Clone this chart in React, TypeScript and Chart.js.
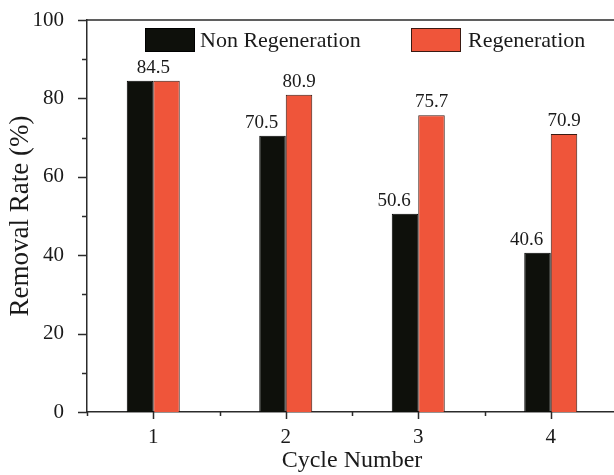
import React, { useEffect, useRef } from "react";
import { Chart, registerables } from "chart.js";

Chart.register(...registerables);

const cycles = ["1", "2", "3", "4"];
const nonRegeneration = [84.5, 70.5, 50.6, 40.6];
const regeneration = [84.5, 80.9, 75.7, 70.9];
const seriesNames = ["Non Regeneration", "Regeneration"];
const yMin = 0;
const yMax = 100;
const yMajorStep = 20;
const yMinorStep = 10;

const FONT = "'Liberation Serif', 'Times New Roman', serif";
const AXIS = "#2b2b2b";
const TEXT = "#1a1a1a";
const BLACK = "#0e100b";
const RED = "#ef553a";

const framePlugin = {
  id: "frame",
  afterDraw(chart: any) {
    const ctx = chart.ctx;
    const { left, right, top, bottom } = chart.chartArea;
    const xs = chart.scales.x;
    const ys = chart.scales.y;
    ctx.save();
    ctx.strokeStyle = AXIS;
    ctx.lineWidth = 1.5;
    ctx.beginPath();
    ctx.moveTo(left, top);
    ctx.lineTo(right, top);
    ctx.lineTo(right, bottom);
    for (let v = yMin; v <= yMax; v += yMinorStep) {
      const y = Math.round(ys.getPixelForValue(v)) + 0.5;
      const len = v % yMajorStep === 0 ? 9 : 5;
      ctx.moveTo(left - len, y);
      ctx.lineTo(left, y);
    }
    const n = chart.data.labels.length;
    for (let i = 0; i < n; i++) {
      const x = Math.round(xs.getPixelForValue(i)) + 0.5;
      ctx.moveTo(x, bottom);
      ctx.lineTo(x, bottom + 7);
    }
    for (let i = 0; i <= n; i++) {
      const x = Math.round(xs.getPixelForValue(i - 0.5)) + 0.5;
      ctx.moveTo(x, bottom);
      ctx.lineTo(x, bottom + 4);
    }
    ctx.stroke();

    const items = chart.data.datasets.map((d: any) => ({
      label: d.label,
      fill: d.backgroundColor,
      stroke: d.borderColor,
    }));
    const legendPos = [
      { box: left + 58, text: left + 113 },
      { box: left + 324, text: left + 381 },
    ];
    const boxTop = top + 8;
    ctx.font = `22px ${FONT}`;
    ctx.textBaseline = "middle";
    ctx.textAlign = "left";
    items.forEach((it: any, i: number) => {
      const p = legendPos[i];
      ctx.fillStyle = it.fill;
      ctx.fillRect(p.box, boxTop, 50, 24);
      ctx.strokeStyle = it.stroke;
      ctx.lineWidth = 1;
      ctx.strokeRect(p.box + 0.5, boxTop + 0.5, 49, 23);
      ctx.fillStyle = TEXT;
      ctx.fillText(it.label, p.text, boxTop + 13);
    });
    ctx.restore();
  },
};

const labelPlugin = {
  id: "barLabels",
  afterDatasetsDraw(chart: any) {
    const ctx = chart.ctx;
    const m0 = chart.getDatasetMeta(0);
    const m1 = chart.getDatasetMeta(1);
    const d0 = chart.data.datasets[0].data;
    const d1 = chart.data.datasets[1].data;
    ctx.save();
    ctx.font = `19px ${FONT}`;
    ctx.fillStyle = TEXT;
    ctx.textAlign = "center";
    ctx.textBaseline = "alphabetic";
    for (let i = 0; i < d0.length; i++) {
      const b0 = m0.data[i];
      const b1 = m1.data[i];
      if (d0[i] === d1[i]) {
        ctx.fillText(d0[i].toFixed(1), (b0.x + b1.x) / 2, Math.min(b0.y, b1.y) - 8);
      } else {
        ctx.fillText(d0[i].toFixed(1), b0.x - 11, b0.y - 8);
        ctx.fillText(d1[i].toFixed(1), b1.x, b1.y - 8);
      }
    }
    ctx.restore();
  },
};

export default function App() {
  const ref = useRef<HTMLCanvasElement>(null);

  useEffect(() => {
    if (!ref.current) return;
    const chart = new Chart(ref.current, {
      type: "bar",
      data: {
        labels: cycles,
        datasets: [
          {
            label: seriesNames[0],
            data: nonRegeneration,
            backgroundColor: BLACK,
            borderColor: "#000000",
            borderWidth: 1,
            categoryPercentage: 0.4,
            barPercentage: 1.0,
          },
          {
            label: seriesNames[1],
            data: regeneration,
            backgroundColor: RED,
            borderColor: "#3a1a12",
            borderWidth: 1,
            categoryPercentage: 0.4,
            barPercentage: 1.0,
          },
        ],
      },
      options: {
        animation: false,
        responsive: true,
        maintainAspectRatio: false,
        layout: { autoPadding: false, padding: { top: 20, right: 13, left: 0, bottom: 0 } },
        plugins: {
          legend: { display: false },
          tooltip: { enabled: false },
        },
        scales: {
          x: {
            grid: { display: false },
            border: { display: true, color: AXIS, width: 1.5 },
            ticks: {
              color: TEXT,
              font: { family: FONT, size: 21 },
              padding: 5,
              maxRotation: 0,
            },
            title: {
              display: true,
              text: "Cycle Number",
              color: TEXT,
              font: { family: FONT, size: 24 },
              padding: { top: 0, bottom: 0 },
            },
            afterFit: (s: any) => {
              s.height = 63;
              s.paddingLeft = 0;
              s.paddingRight = 0;
            },
          },
          y: {
            min: yMin,
            max: yMax,
            grid: { display: false },
            border: { display: true, color: AXIS, width: 1.5 },
            ticks: {
              stepSize: yMajorStep,
              color: TEXT,
              font: { family: FONT, size: 21 },
              padding: 15,
            },
            title: {
              display: true,
              text: "Removal Rate (%)",
              color: TEXT,
              font: { family: FONT, size: 27 },
              padding: { top: 5, bottom: 0 },
            },
            afterFit: (s: any) => {
              s.width = 87;
              s.paddingTop = 0;
              s.paddingBottom = 0;
            },
          },
        },
      },
      plugins: [framePlugin, labelPlugin],
    });
    return () => chart.destroy();
  }, []);

  return (
    <div
      style={{
        position: "fixed",
        left: 0,
        top: 0,
        width: 614,
        height: 475,
        overflow: "hidden",
        background: "#ffffff",
      }}
    >
      <div style={{ position: "relative", width: 630, height: 475 }}>
        <canvas ref={ref} />
      </div>
    </div>
  );
}
